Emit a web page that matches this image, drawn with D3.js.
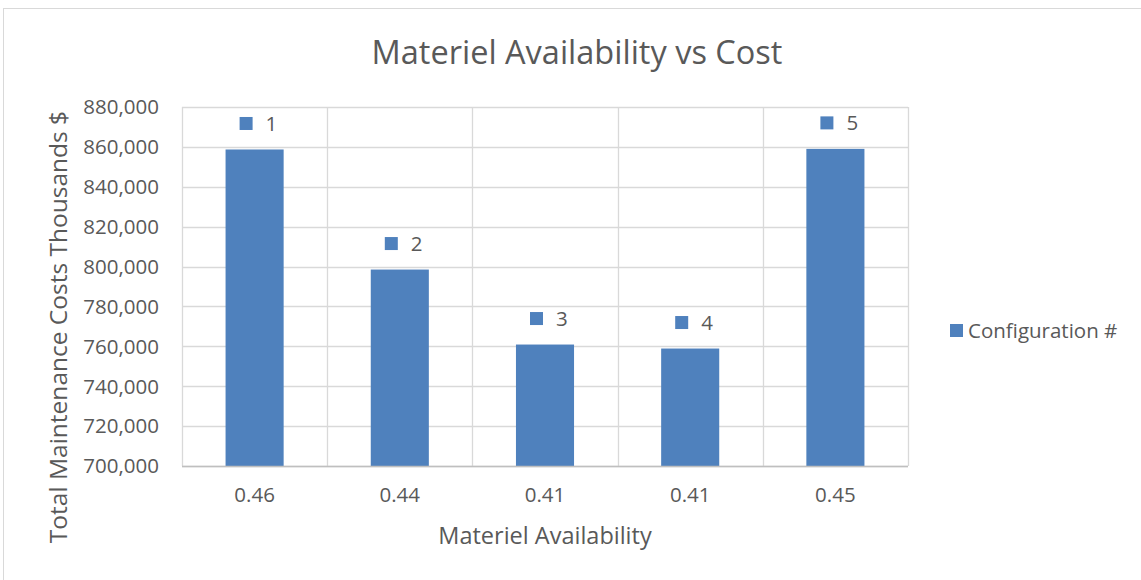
<!DOCTYPE html>
<html><head><meta charset="utf-8">
<script src="https://cdn.jsdelivr.net/npm/d3@7"></script>
<style>body{margin:0;background:#fff;} text{font-family:"Open Sans",sans-serif;fill:#595959;}</style>
</head><body>
<svg id="c" width="1141" height="580"></svg>
<script>
const categories = ["0.46","0.44","0.41","0.41","0.45"];
const values = [858700, 798500, 760900, 758900, 859000];
const labels = ["1","2","3","4","5"];
const yTicks = [700000,720000,740000,760000,780000,800000,820000,840000,860000,880000];
const seriesName = "Configuration #";
const title = "Materiel Availability vs Cost";
const xTitle = "Materiel Availability";
const yTitle = "Total Maintenance Costs Thousands $";

const svg = d3.select("#c");
const color = "#4f81bd", grid = "#d9d9d9";
const m = {l:182, r:908, t:107, b:466};

svg.append("rect").attr("x",3.5).attr("y",8.5).attr("width",1150).attr("height",600)
  .attr("fill","none").attr("stroke","#d9d9d9");

const x = d3.scaleBand().domain(d3.range(categories.length)).range([m.l,m.r]).paddingInner(0.6).paddingOuter(0.3);
const xb = d3.scaleBand().domain(d3.range(categories.length)).range([m.l,m.r]);
const y = d3.scaleLinear().domain([700000,880000]).range([m.b,m.t]);

// horizontal grid
svg.append("g").selectAll("line").data(yTicks).join("line")
  .attr("x1",m.l).attr("x2",m.r).attr("y1",d=>Math.round(y(d))+0.5).attr("y2",d=>Math.round(y(d))+0.5)
  .attr("stroke",grid).attr("stroke-width",1.3);
// vertical grid
const vb = d3.range(categories.length+1).map(i=> i<categories.length? xb(i): m.r);
svg.append("g").selectAll("line").data(vb).join("line")
  .attr("x1",d=>Math.round(d)+0.5).attr("x2",d=>Math.round(d)+0.5).attr("y1",m.t).attr("y2",m.b)
  .attr("stroke",grid).attr("stroke-width",1.3);

// bars
svg.append("g").selectAll("rect").data(values).join("rect")
  .attr("x",(d,i)=>x(i)).attr("width",x.bandwidth())
  .attr("y",d=>y(d)).attr("height",d=>m.b-y(d)).attr("fill",color);

// axis line bottom
svg.append("line").attr("x1",m.l).attr("x2",m.r).attr("y1",m.b+0.5).attr("y2",m.b+0.5).attr("stroke","#bfbfbf").attr("stroke-width",1.3);

// y tick labels
const fmt = d3.format(",");
svg.append("g").selectAll("text").data(yTicks).join("text")
  .attr("x",159).attr("y",d=>y(d)).attr("dy","0.36em").attr("text-anchor","end")
  .style("font-size","20.5px").text(d=>fmt(d));

// x tick labels
svg.append("g").selectAll("text").data(categories).join("text")
  .attr("x",(d,i)=>xb(i)+xb.bandwidth()/2).attr("y",502).attr("text-anchor","middle")
  .style("font-size","20.5px").text(d=>d);

// data labels
const dl = svg.append("g").selectAll("g").data(values).join("g")
  .attr("transform",(d,i)=>`translate(${x(i)+x.bandwidth()/2},${y(d)-26})`);
dl.append("rect").attr("x",-15).attr("y",-6.5).attr("width",13).attr("height",13).attr("fill",color);
dl.append("text").attr("x",11).attr("y",0).attr("dy","0.36em").style("font-size","20.5px").text((d,i)=>labels[i]);

// title
svg.append("text").attr("x",577).attr("y",64).attr("text-anchor","middle").style("font-size","32.5px").text(title);
// x title
svg.append("text").attr("x",545).attr("y",544).attr("text-anchor","middle").style("font-size","23.5px").text(xTitle);
// y title
svg.append("text").attr("transform","translate(67,327) rotate(-90)").attr("text-anchor","middle").style("font-size","24.5px").text(yTitle);

// legend
svg.append("rect").attr("x",950).attr("y",324).attr("width",13).attr("height",13).attr("fill",color);
svg.append("text").attr("x",968).attr("y",330.5).attr("dy","0.36em").style("font-size","20.5px").text(seriesName);
</script>
</body></html>
